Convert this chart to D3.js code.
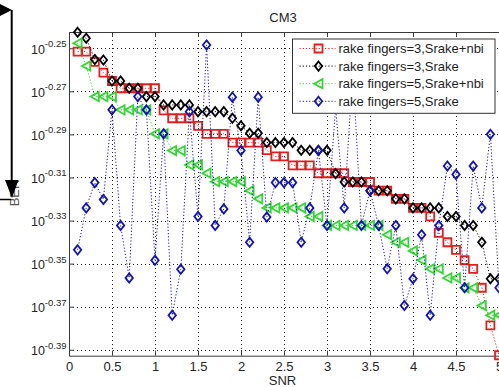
<!DOCTYPE html>
<html>
<head>
<meta charset="utf-8">
<script src="https://cdn.jsdelivr.net/npm/d3@7"></script>
<style>
  body { margin: 0; background: #fff; }
  text { font-family: "Liberation Sans", Arial, sans-serif; }
</style>
</head>
<body>
<svg id="chart" width="499" height="387"></svg>
<script>
// SNR points (x)
const snr = [0.1, 0.2, 0.3, 0.4, 0.5, 0.6, 0.7, 0.8, 0.9, 1.0,
             1.1, 1.2, 1.3, 1.4, 1.5, 1.6, 1.7, 1.8, 1.9, 2.0,
             2.1, 2.2, 2.3, 2.4, 2.5, 2.6, 2.7, 2.8, 2.9, 3.0,
             3.1, 3.2, 3.3, 3.4, 3.5, 3.6, 3.7, 3.8, 3.9, 4.0,
             4.1, 4.2, 4.3, 4.4, 4.5, 4.6, 4.7, 4.8, 4.9, 5.0];

// BER, rake fingers=3, Srake+nbi
const fing3Nbi = [0.5603, 0.5603, 0.5542, 0.5479, 0.5430, 0.5388, 0.5388, 0.5388, 0.5388, 0.5388,
                  0.5262, 0.5218, 0.5218, 0.5218, 0.5176, 0.5132, 0.5132, 0.5132, 0.5084, 0.5084,
                  0.5084, 0.5084, 0.5043, 0.5009, 0.5009, 0.4962, 0.4962, 0.4962, 0.4920, 0.4920,
                  0.4920, 0.4920, 0.4874, 0.4874, 0.4874, 0.4829, 0.4829, 0.4787, 0.4787, 0.4741,
                  0.4741, 0.4698, 0.4616, 0.4570, 0.4533, 0.4483, 0.4442, 0.4353, 0.4181, 0.4050];
// BER, rake fingers=3, Srake
const fing3 = [0.5720, 0.5684, 0.5556, 0.5553, 0.5430, 0.5430, 0.5388, 0.5388, 0.5340, 0.5340,
               0.5293, 0.5293, 0.5293, 0.5293, 0.5255, 0.5255, 0.5255, 0.5255, 0.5218, 0.5176,
               0.5135, 0.5135, 0.5084, 0.5084, 0.5084, 0.5084, 0.5042, 0.5042, 0.5042, 0.5042,
               0.4918, 0.4874, 0.4874, 0.4874, 0.4829, 0.4829, 0.4829, 0.4787, 0.4787, 0.4741,
               0.4741, 0.4741, 0.4741, 0.4698, 0.4698, 0.4653, 0.4653, 0.4570, 0.4395, 0.4395];
// BER, rake fingers=5, Srake+nbi
const fing5Nbi = [0.5654, 0.5518, 0.5340, 0.5340, 0.5340, 0.5265, 0.5265, 0.5265, 0.5265, 0.5132,
                  0.5132, 0.5041, 0.5041, 0.4964, 0.4964, 0.4920, 0.4876, 0.4876, 0.4876, 0.4876,
                  0.4829, 0.4787, 0.4741, 0.4741, 0.4741, 0.4741, 0.4741, 0.4698, 0.4698, 0.4653,
                  0.4653, 0.4653, 0.4653, 0.4653, 0.4653, 0.4653, 0.4607, 0.4570, 0.4570, 0.4528,
                  0.4483, 0.4442, 0.4442, 0.4399, 0.4399, 0.4353, 0.4353, 0.4271, 0.4227, 0.4227];
// BER, rake fingers=5, Srake
const fing5 = [0.4533, 0.4741, 0.4871, 0.4784, 0.5265, 0.4653, 0.4399, 0.5340, 0.5265, 0.4483,
               0.5132, 0.4227, 0.4440, 0.5255, 0.4698, 0.5643, 0.4653, 0.4736, 0.5337, 0.5041,
               0.4570, 0.5337, 0.4695, 0.4871, 0.4871, 0.4871, 0.4570, 0.4741, 0.5041, 0.4653,
               0.5276, 0.4741, 0.5494, 0.4653, 0.4829, 0.4653, 0.4442, 0.4653, 0.4271, 0.4395,
               0.4607, 0.4227, 0.4653, 0.4958, 0.4914, 0.4353, 0.4958, 0.4741, 0.5129, 0.4353];

const legendLabels = ["rake fingers=3,Srake+nbi", "rake fingers=3,Srake",
                      "rake fingers=5,Srake+nbi", "rake fingers=5,Srake"];
const xTicks = [0, 0.5, 1, 1.5, 2, 2.5, 3, 3.5, 4, 4.5, 5];
const yTickExps = [-0.25, -0.27, -0.29, -0.31, -0.33, -0.35, -0.37, -0.39];

const svg = d3.select("#chart");
const plotL = 69, plotR = 499, plotT = 32, plotB = 355.7;
const axisColor = "#3a3a3a";

const x = d3.scaleLinear().domain([0, 5]).range([plotL, plotR]);
const y = d3.scaleLog().domain([0.4048, 0.5722]).range([plotB, plotT]);
const yTickVals = yTickExps.map(e => Math.pow(10, e));

// dotted grid
const grid = svg.append("g")
  .attr("stroke", "#222")
  .attr("stroke-width", 1)
  .attr("stroke-dasharray", "1,3");
grid.selectAll("line.gx").data(xTicks.slice(1)).enter().append("line")
  .attr("x1", d => Math.round(x(d)) + 0.5).attr("x2", d => Math.round(x(d)) + 0.5)
  .attr("y1", plotT).attr("y2", plotB);
grid.selectAll("line.gy").data(yTickVals).enter().append("line")
  .attr("x1", plotL).attr("x2", plotR)
  .attr("y1", d => Math.round(y(d)) + 0.5).attr("y2", d => Math.round(y(d)) + 0.5);

// axes, ticks pointing inward like matlab
const xAxis = svg.append("g")
  .attr("transform", `translate(0,${plotB})`)
  .attr("color", axisColor)
  .call(d3.axisBottom(x).tickValues(xTicks).tickSize(-5).tickSizeOuter(0)
    .tickPadding(6).tickFormat(d3.format("")));
xAxis.selectAll("text").attr("font-size", 13).attr("fill", "#262626")
  .attr("font-family", "Liberation Sans, Arial, sans-serif");

svg.append("g")
  .attr("transform", `translate(0,${plotT})`)
  .attr("color", axisColor)
  .call(d3.axisTop(x).tickValues(xTicks).tickSize(-5).tickSizeOuter(0).tickFormat(""));

const yAxis = svg.append("g")
  .attr("transform", `translate(${plotL},0)`)
  .attr("color", axisColor)
  .call(d3.axisLeft(y).tickValues(yTickVals).tickSize(-5).tickSizeOuter(0).tickFormat(""));

// 10^exp labels
yAxis.selectAll(".tick").append("text")
  .attr("x", -2.5)
  .attr("y", 5)
  .attr("text-anchor", "end")
  .attr("fill", "#262626")
  .attr("font-family", "Liberation Sans, Arial, sans-serif")
  .each(function(d, i) {
    const t = d3.select(this);
    t.append("tspan").attr("font-size", 12.5).text("10");
    t.append("tspan").attr("font-size", 9.5).attr("dy", -6.6).text(yTickExps[i].toFixed(2));
  });

// data series
const series = [
  { values: fing3Nbi, color: "#e41e1e", shape: "square" },
  { values: fing3, color: "#000000", shape: "diamond" },
  { values: fing5Nbi, color: "#33d633", shape: "triangle" },
  { values: fing5, color: "#1414b4", shape: "diamond" }
];

function markerPath(shape) {
  if (shape === "square") return "M-4,-4H4V4H-4Z";
  if (shape === "diamond") return "M0,-4.6L3.7,0L0,4.6L-3.7,0Z";
  return "M-4.3,0L4,-4.6L4,4.6Z";
}

const line = d3.line()
  .x((d, i) => x(snr[i]))
  .y(d => y(d));

series.forEach(s => {
  const g = svg.append("g");
  g.append("path")
    .attr("d", line(s.values))
    .attr("fill", "none")
    .attr("stroke", s.color)
    .attr("stroke-width", 1)
    .attr("stroke-dasharray", "1.2,2");
  g.selectAll("path.m").data(s.values).enter().append("path")
    .attr("class", "m")
    .attr("transform", (d, i) => `translate(${x(snr[i])},${y(d)})`)
    .attr("d", markerPath(s.shape))
    .attr("fill", "none")
    .attr("stroke", s.color)
    .attr("stroke-width", 1.8);
});

// title and labels
svg.append("text")
  .attr("x", 283).attr("y", 21.7)
  .attr("text-anchor", "middle")
  .attr("font-size", 13).attr("fill", "#262626")
  .text("CM3");

svg.append("text")
  .attr("x", 282.5).attr("y", 385)
  .attr("text-anchor", "middle")
  .attr("font-size", 13).attr("fill", "#262626")
  .text("SNR");

svg.append("text")
  .attr("transform", "translate(18.5,193) rotate(-90)")
  .attr("text-anchor", "middle")
  .attr("font-size", 13).attr("fill", "#555")
  .text("BER");

// legend
const leg = svg.append("g").attr("transform", "translate(292.5,39)");
leg.append("rect")
  .attr("width", 202.5).attr("height", 74.3)
  .attr("fill", "#fff").attr("stroke", "#333").attr("stroke-width", 1);
const rows = leg.selectAll("g.row").data(series).enter().append("g")
  .attr("transform", (d, i) => `translate(0,${9.5 + i * 17.6})`);
rows.append("line")
  .attr("x1", 7).attr("x2", 43)
  .attr("stroke", d => d.color).attr("stroke-width", 1).attr("stroke-dasharray", "1.2,2");
rows.append("path")
  .attr("transform", "translate(26,0)")
  .attr("d", d => markerPath(d.shape))
  .attr("fill", "none").attr("stroke", d => d.color).attr("stroke-width", 1.8);
rows.append("text")
  .attr("x", 46).attr("y", 4.6)
  .attr("font-size", 13).attr("fill", "#1e1e1e")
  .text((d, i) => legendLabels[i]);

// stray arrow annotation on the left edge
const ann = svg.append("g").attr("fill", "#000").attr("stroke", "#000");
ann.append("line").attr("x1", 11.7).attr("x2", 11.7).attr("y1", 10).attr("y2", 184).attr("stroke-width", 2);
ann.append("path").attr("d", "M5,180L18.5,180L12,198Z").attr("stroke", "none");
ann.append("path").attr("d", "M0,4L12,10L0,16Z").attr("stroke", "none");
ann.append("line").attr("x1", 0).attr("x2", 11).attr("y1", 199.5).attr("y2", 199.5).attr("stroke-width", 1.5);
</script>
</body>
</html>
